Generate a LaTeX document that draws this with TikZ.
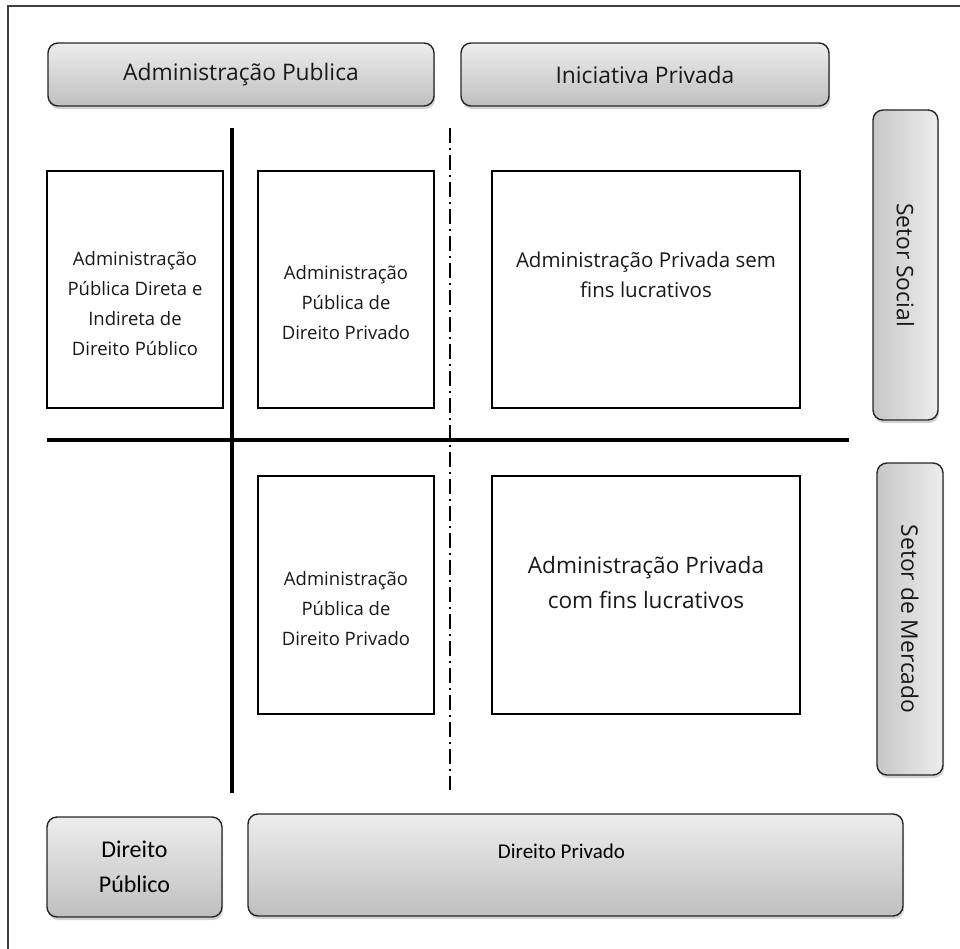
\documentclass[tikz,border=0pt]{standalone}
\usepackage{fontspec}
\setmainfont{Open Sans}
\newfontfamily\calib{Carlito}
\usetikzlibrary{shadows}
\tikzset{
  box/.style={draw=black, line width=1.4pt, fill=white, inner sep=0pt, outer sep=0pt, align=center},
  hbtn/.style={draw=black!85, line width=1.4pt, rounded corners=10pt, top color=black!7, bottom color=black!25,
     drop shadow={shadow xshift=1pt, shadow yshift=-3pt, opacity=0.35}, inner sep=0pt, align=center},
  vbtn/.style={draw=black!85, line width=1.4pt, rounded corners=10pt, left color=black!22, right color=black!7,
     drop shadow={shadow xshift=1pt, shadow yshift=-3pt, opacity=0.35}, inner sep=0pt, align=center},
  divline/.style={line width=3.4pt, black},
  dashdot/.style={line width=1.2pt, black, dash pattern=on 15pt off 5pt on 2pt off 5pt},
  bigtxt/.style={font=\fontsize{22.8}{26}\selectfont, text=black!90},
  smalltxt/.style={font=\fontsize{18.5}{30}\selectfont, text=black!90},
}
\begin{document}
\begin{tikzpicture}[x=1pt,y=-1pt]
\useasboundingbox (0,0) rectangle (960,949);
% frame
\draw[line width=1.6pt, black!75] (8,949) -- (8,6) -- (960,6);
% top buttons
\node[hbtn, minimum width=386pt, minimum height=63pt, bigtxt] (ap) at (241,74.5) {Administração Publica};
\node[hbtn, minimum width=368pt, minimum height=63pt, bigtxt] (ip) at (645,74.5) {Iniciativa Privada};
% side buttons
\node[vbtn, minimum width=65pt, minimum height=310pt] (ss) at (905.5,265) {};
\node[bigtxt, rotate=-90] (sst) at (ss.center) {Setor Social};
\node[vbtn, minimum width=66pt, minimum height=312pt] (sm) at (910,619) {};
\node[bigtxt, rotate=-90] (smt) at (sm.center) {Setor de Mercado};
% boxes
\node[box, minimum width=176pt, minimum height=237pt] (b1) at (135,289.5) {};
\node[smalltxt, align=center] (b1t) at (135,304)
  {Administração\\Pública Direta e\\Indireta de\\Direito Público};
\node[box, minimum width=176pt, minimum height=237pt] (b2) at (346,289.5) {};
\node[smalltxt, align=center] (b2t) at (346,303)
  {Administração\\Pública de\\Direito Privado};
\node[box, minimum width=308pt, minimum height=237pt] (b3) at (646,289.5) {};
\node[align=center, text=black!90, font=\fontsize{20.5}{30}\selectfont] (b3t) at (646,275) {Administração Privada sem\\fins lucrativos};
\node[box, minimum width=176pt, minimum height=238pt] (b4) at (346,595) {};
\node[smalltxt, align=center] (b4t) at (346,609)
  {Administração\\Pública de\\Direito Privado};
\node[box, minimum width=308pt, minimum height=238pt] (b5) at (646,595) {};
\node[align=center, text=black!90, font=\fontsize{22.6}{35}\selectfont] (b5t) at (646,582.5) {Administração Privada\\com fins lucrativos};
% dividers
\coordinate (vt) at (232,128); \coordinate (vb) at (232,793);
\coordinate (hl) at (47,440); \coordinate (hr) at (849,440);
\coordinate (dt) at (450,128); \coordinate (db) at (450,790);
\draw[divline] (vt) -- (vb);
\draw[divline] (hl) -- (hr);
\draw[dashdot] (dt) -- (db);
% bottom buttons
\node[hbtn, minimum width=175pt, minimum height=100pt, font=\calib\fontsize{24}{35}\selectfont] (dpu) at (134.5,867) {Direito\\Público};
\node[hbtn, minimum width=655pt, minimum height=102pt] (dpr) at (575.5,865) {};
\node[font=\calib\fontsize{21}{24}\selectfont] (dprt) at (561.5,851) {Direito Privado};
\end{tikzpicture}
\end{document}
